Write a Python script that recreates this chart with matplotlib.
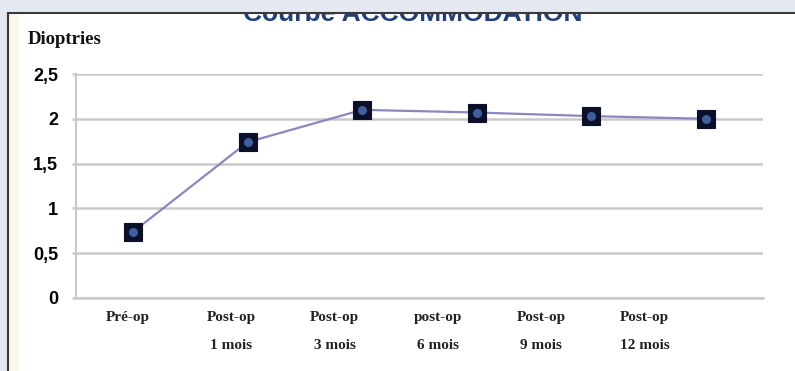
import matplotlib
matplotlib.use("Agg")
import matplotlib.pyplot as plt
from matplotlib.patches import Rectangle
from matplotlib.lines import Line2D

categories = ["Pré-op", "Post-op\n1 mois", "Post-op\n3 mois", "post-op\n6 mois",
              "Post-op\n9 mois", "Post-op\n12 mois"]
values = [0.74, 1.74, 2.10, 2.07, 2.03, 2.00]
yticks = [0, 0.5, 1, 1.5, 2, 2.5]
ytick_labels = ["0", "0,5", "1", "1,5", "2", "2,5"]

W, H = 795, 371
BG = "#e4e8f1"
fig = plt.figure(figsize=(W / 100, H / 100), dpi=100)
fig.patch.set_facecolor(BG)

# white panel
fig.patches.append(Rectangle((8 / W, 0), 1 - 8 / W, 1 - 13 / H, transform=fig.transFigure,
                             facecolor="white", edgecolor="none", zorder=-2))
fig.patches.append(Rectangle((9 / W, 0), 9 / W, 1 - 14 / H, transform=fig.transFigure,
                             facecolor="#fdf7ea", edgecolor="none", zorder=-1))
fig.lines.append(Line2D([8 / W, 8 / W], [0, 1 - 13 / H], transform=fig.transFigure,
                        color="#3a3a3a", lw=1.5, zorder=5))
fig.lines.append(Line2D([8 / W, 1], [1 - 13 / H, 1 - 13 / H], transform=fig.transFigure,
                        color="#3a3a3a", lw=1.5, zorder=5))

# clipped title
fig.text(413 / W, 1 - 21 / H, "Courbe ACCOMMODATION", ha="center", va="baseline",
         fontsize=19, fontweight="bold", color="#1f3f7c", family="Liberation Sans", zorder=3)
fig.patches.append(Rectangle((0, 1 - 12.5 / H), 1, 12.5 / H, transform=fig.transFigure,
                             facecolor=BG, edgecolor="none", zorder=4))

ax = fig.add_axes([76 / W, 1 - 298 / H, (763 - 76) / W, (298 - 74) / H], zorder=1)
ax.set_facecolor("none")
x = list(range(len(values)))
ax.plot(x, values, color="#8a86c0", lw=1.6, zorder=3)
ax.plot(x, values, linestyle="none", marker="s", markersize=13, markerfacecolor="#0b1028",
        markeredgecolor="#0b1028", markeredgewidth=0.8, zorder=4)
ax.plot(x, values, linestyle="none", marker="o", markersize=6.5, markerfacecolor="#3e5e9e",
        markeredgecolor="none", zorder=5)

ax.set_xlim(-0.5, 5.5)
ax.set_ylim(0, 2.5)
ax.set_yticks(yticks)
ax.set_yticklabels(ytick_labels, fontsize=13, fontweight="bold", family="Liberation Sans")
ax.yaxis.grid(True, color="#c9c9c9", lw=1.8)
ax.set_axisbelow(True)
ax.tick_params(axis="y", length=3, width=1.8, color="#c9c9c9", pad=10)

label_pos = [i * 0.902 - 0.046 for i in range(len(categories))]
ax.set_xticks(label_pos)
ax.set_xticklabels(categories, fontsize=11, fontweight="bold", family="Liberation Serif",
                   linespacing=2.45, va="top", color="#222222")
ax.tick_params(axis="x", length=0, pad=9.5)

for s in ["top", "right"]:
    ax.spines[s].set_visible(False)
ax.spines["left"].set_color("#c9c9c9")
ax.spines["bottom"].set_color("#c9c9c9")
ax.spines["left"].set_linewidth(1.5)
ax.spines["bottom"].set_linewidth(1.8)

fig.text(28 / W, 1 - 40 / H, "Dioptries", ha="left", va="center", fontsize=13.5,
         fontweight="bold", family="Liberation Serif", color="#111111")

fig.savefig("out.png", dpi=100)
